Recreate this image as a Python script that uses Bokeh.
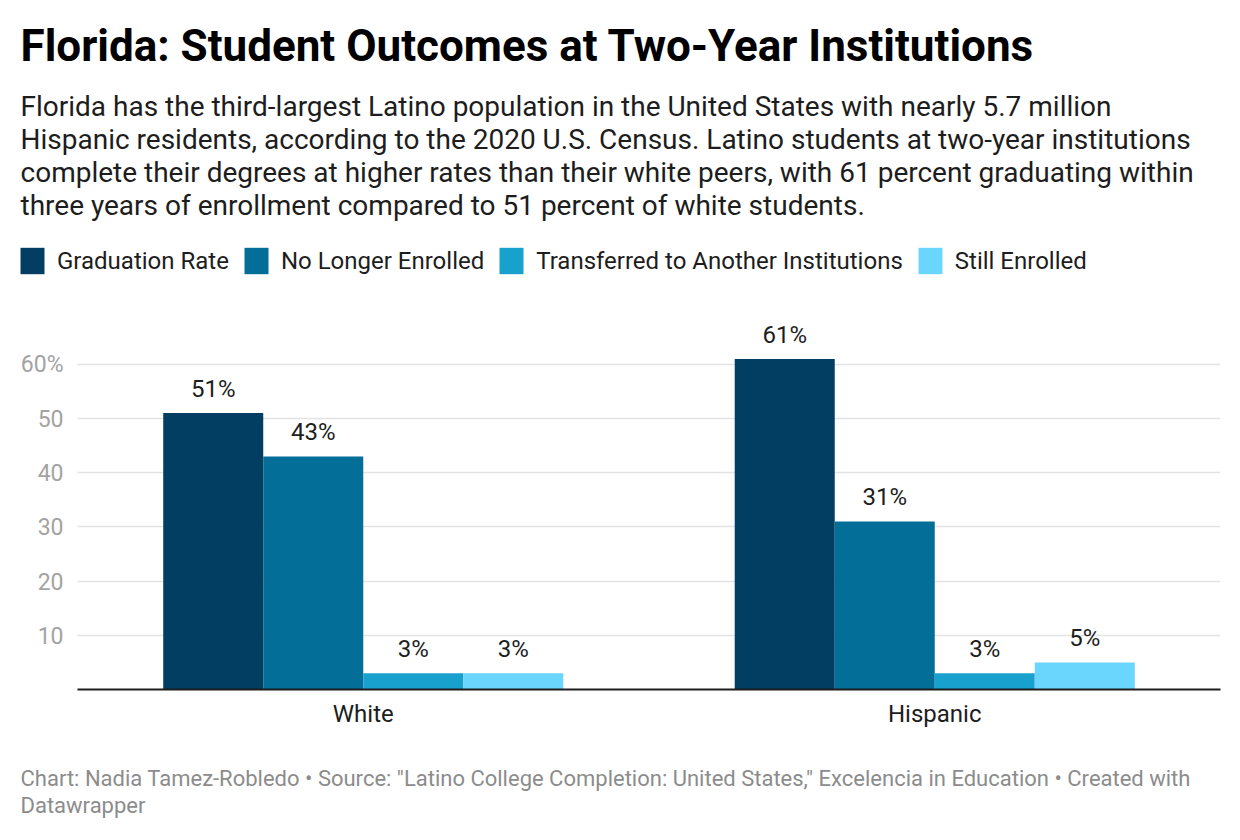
from bokeh.plotting import figure
from bokeh.models import (ColumnDataSource, Range1d, FixedTicker, Title, Grid,
                          Legend, LegendItem)
from bokeh.transform import dodge
from bokeh.embed import file_html
from bokeh.resources import INLINE
from bokeh.core.properties import value

# ---------------- data ----------------
groups = ["White", "Hispanic"]
series_names = ["Graduation Rate", "No Longer Enrolled",
                "Transferred to Another Institutions", "Still Enrolled"]
graduation_rate = [51, 61]
no_longer_enrolled = [43, 31]
transferred = [3, 3]
still_enrolled = [3, 5]
series_values = [graduation_rate, no_longer_enrolled, transferred, still_enrolled]
y_ticks = [10, 20, 30, 40, 50, 60]
y_tick_labels = ["10", "20", "30", "40", "50", "60%"]

title_text = "Florida: Student Outcomes at Two-Year Institutions"
subtitle_lines = [
    "Florida has the third-largest Latino population in the United States with nearly 5.7 million",
    "Hispanic residents, according to the 2020 U.S. Census. Latino students at two-year institutions",
    "complete their degrees at higher rates than their white peers, with 61 percent graduating within",
    "three years of enrollment compared to 51 percent of white students.",
]
footer_text = ("Chart: Nadia Tamez-Robledo \u2022 Source: \"Latino College Completion: United States,\" "
               "Excelencia in Education \u2022 Created with\nDatawrapper")

# ---------------- style / layout ----------------
colors = ["#023e62", "#036e98", "#19a1ce", "#6ad6fe"]
FONT = "Roboto"
W = 1240
MARGIN = 20
CAT_PX = 571.5                 # pixel width of one category band
AXIS_GAP = 57                  # space left of the first band for y labels
FRAME_TOP, FRAME_BOTTOM = 221, 690
PX_PER_UNIT = 5.42
bar_w = 0.175
offsets = [-1.5 * bar_w, -0.5 * bar_w, 0.5 * bar_w, 1.5 * bar_w]
group_pos = [i + 0.5 for i in range(len(groups))]

p = figure(frame_width=W - 2 * MARGIN, frame_height=FRAME_BOTTOM - FRAME_TOP,
           output_backend="svg", toolbar_location=None,
           x_range=Range1d(-AXIS_GAP / CAT_PX, len(groups)),
           y_range=Range1d(0, (FRAME_BOTTOM - FRAME_TOP) / PX_PER_UNIT),
           y_axis_location=None,
           min_border_left=MARGIN, min_border_right=MARGIN,
           min_border_top=0, min_border_bottom=0,
           title_location=None)
p.outline_line_color = None
p.xgrid.grid_line_color = None
p.ygrid.grid_line_color = None

# horizontal grid lines limited to the category span
grid = Grid(dimension=1, ticker=FixedTicker(ticks=y_ticks),
            grid_line_color="#e3e3e3", grid_line_width=1.5)
if "cross_bounds" in Grid.properties():
    grid.cross_bounds = (0, len(groups))
p.add_layout(grid)

renderers = []
for name, vals, col, off in zip(series_names, series_values, colors, offsets):
    src = ColumnDataSource(dict(pos=group_pos, val=vals, lbl=[f"{v}%" for v in vals]))
    r = p.vbar(x=dodge("pos", off), top="val", width=bar_w,
               source=src, fill_color=col, line_color=None)
    renderers.append(r)
    p.text(x=dodge("pos", off), y="val", text="lbl", source=src,
           y_offset=-24, text_align="center", text_baseline="middle",
           text_font=value(FONT), text_font_size="24px", text_color="#1d1d1d")

# y tick labels, right-aligned just left of where the grid lines start
ysrc = ColumnDataSource(dict(x=[0] * len(y_ticks), y=y_ticks, t=y_tick_labels))
p.text(x="x", y="y", text="t", source=ysrc, x_offset=-14, text_align="right",
       text_baseline="middle", text_font=value(FONT), text_font_size="23px",
       text_color="#a3a3a3")

# x axis
p.xaxis.ticker = FixedTicker(ticks=group_pos)
p.xaxis.major_label_overrides = {pos: g for pos, g in zip(group_pos, groups)}
p.xaxis.bounds = (0, len(groups))
p.xaxis.axis_line_color = "#1d1d1d"
p.xaxis.axis_line_width = 2
p.xaxis.major_tick_line_color = None
p.xaxis.minor_tick_line_color = None
p.xaxis.major_tick_out = 0
p.xaxis.major_tick_in = 0
p.xaxis.major_label_standoff = 10
p.xaxis.major_label_text_font = FONT
p.xaxis.major_label_text_font_size = "24px"
p.xaxis.major_label_text_color = "#1d1d1d"
# blank axis label only reserves a little room between the axis and the footer
p.xaxis.axis_label = " "
p.xaxis.axis_label_text_font_size = "8px"
p.xaxis.axis_label_standoff = 2

# legend inside the frame, above the bars (bar legend glyphs are inset by 10%)
legend = Legend(items=[LegendItem(label=n, renderers=[r]) for n, r in zip(series_names, renderers)],
                orientation="horizontal", location=(-3, 412),
                glyph_width=30, glyph_height=33, label_standoff=10, spacing=12,
                padding=0, margin=0, border_line_color=None, background_fill_alpha=0,
                label_text_font=FONT, label_text_font_size="24px",
                label_text_color="#1d1d1d", label_text_baseline="middle")
p.add_layout(legend)


def add_title(txt, place, size, color, style="normal", standoff=0, line_height=1.0):
    p.add_layout(Title(text=txt, align="left", offset=0, standoff=standoff,
                       text_font=FONT, text_font_size=size, text_color=color,
                       text_font_style=style, text_line_height=line_height), place)


# "above" panels stack outward: last subtitle line first, main title last
for line in reversed(subtitle_lines):
    add_title(line, "above", "28px", "#1d1d1d", standoff=-2)
add_title(title_text, "above", "44px", "#000000", "bold", standoff=34)

# footer below the x axis
add_title(footer_text, "below", "22px", "#8c8c8c", standoff=40, line_height=1.05)

open("out.html", "w").write(file_html(p, INLINE))
